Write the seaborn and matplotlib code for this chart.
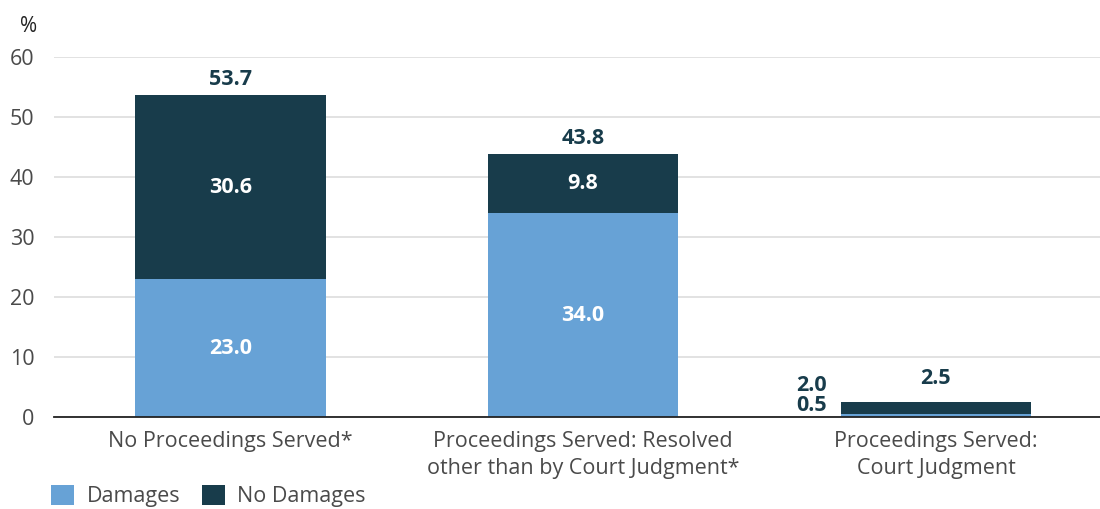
import matplotlib
matplotlib.use("Agg")
import matplotlib.pyplot as plt
import seaborn as sns
import pandas as pd
from matplotlib.patches import Patch

categories = ["No Proceedings Served*",
              "Proceedings Served: Resolved\nother than by Court Judgment*",
              "Proceedings Served:\nCourt Judgment"]
damages = [23.0, 34.0, 0.5]
no_damages = [30.6, 9.8, 2.0]
totals = [53.7, 43.8, 2.5]
yticks = [0, 10, 20, 30, 40, 50, 60]

LIGHT = "#67a2d6"
DARK = "#183c4b"
GREY = "#4a4a4a"

sns.set_theme(style="white")
plt.rcParams['font.family'] = ['Open Sans', 'DejaVu Sans']

fig = plt.figure(figsize=(11, 5.09), dpi=100)
ax = fig.add_axes([0.049, 0.1807, 0.951, 0.7073])

df = pd.DataFrame({"cat": categories, "damages": damages,
                   "no_damages": no_damages, "total": totals})
df["stack"] = df["damages"] + df["no_damages"]

sns.barplot(data=df, x="cat", y="stack", color=DARK, width=0.54,
            saturation=1, ax=ax, zorder=3, linewidth=0, edgecolor="none")
sns.barplot(data=df, x="cat", y="damages", color=LIGHT, width=0.54,
            saturation=1, ax=ax, zorder=3, linewidth=0, edgecolor="none")

ax.set_xlim(-0.5, 2.465)
ax.set_ylim(0, 60)
ax.set_yticks(yticks)
ax.set_yticklabels([str(t) for t in yticks], fontsize=15.5, color=GREY)
ax.tick_params(axis='y', length=0, pad=14)
ax.tick_params(axis='x', length=0, pad=10, labelsize=15.5, labelcolor=GREY)
for lbl in ax.get_xticklabels():
    lbl.set_linespacing(1.35)
ax.set_xlabel("")
ax.set_ylabel("")
for s in ["top", "right", "left"]:
    ax.spines[s].set_visible(False)
ax.spines["bottom"].set_color("#222222")
ax.spines["bottom"].set_linewidth(1.3)
ax.spines["bottom"].set_zorder(4)
ax.yaxis.grid(True, color="#dddddd", linewidth=1.2, zorder=0)
ax.set_axisbelow(True)

fs = 15.5
for i in range(len(categories)):
    d, n, t = damages[i], no_damages[i], totals[i]
    if d > 5:
        ax.text(i, d / 2, f"{d:.1f}", ha="center", va="center", color="white",
                fontsize=fs, fontweight="bold", zorder=5)
        ax.text(i, d + n / 2, f"{n:.1f}", ha="center", va="center", color="white",
                fontsize=fs, fontweight="bold", zorder=5)
        ax.text(i, d + n + 0.9, f"{t:.1f}", ha="center", va="bottom", color=DARK,
                fontsize=fs, fontweight="bold", zorder=5)
    else:
        ax.text(i - 0.31, 2.0, f"{d:.1f}", ha="right", va="center", color=DARK,
                fontsize=fs, fontweight="bold", zorder=5)
        ax.text(i - 0.31, 5.2, f"{n:.1f}", ha="right", va="center", color=DARK,
                fontsize=fs, fontweight="bold", zorder=5)
        ax.text(i, 6.4, f"{t:.1f}", ha="center", va="center", color=DARK,
                fontsize=fs, fontweight="bold", zorder=5)

fig.text(0.018, 0.947, "%", fontsize=15, color="#222222", ha="left", va="center")

handles = [Patch(facecolor=LIGHT, edgecolor="none", label="Damages"),
           Patch(facecolor=DARK, edgecolor="none", label="No Damages")]
fig.legend(handles=handles, loc="lower left", bbox_to_anchor=(0.029, -0.034),
           ncol=2, frameon=False, fontsize=15.5, handlelength=1.05,
           handleheight=1.05, handletextpad=0.6, columnspacing=1.0,
           labelcolor=GREY)

fig.savefig("out.png", dpi=100)
